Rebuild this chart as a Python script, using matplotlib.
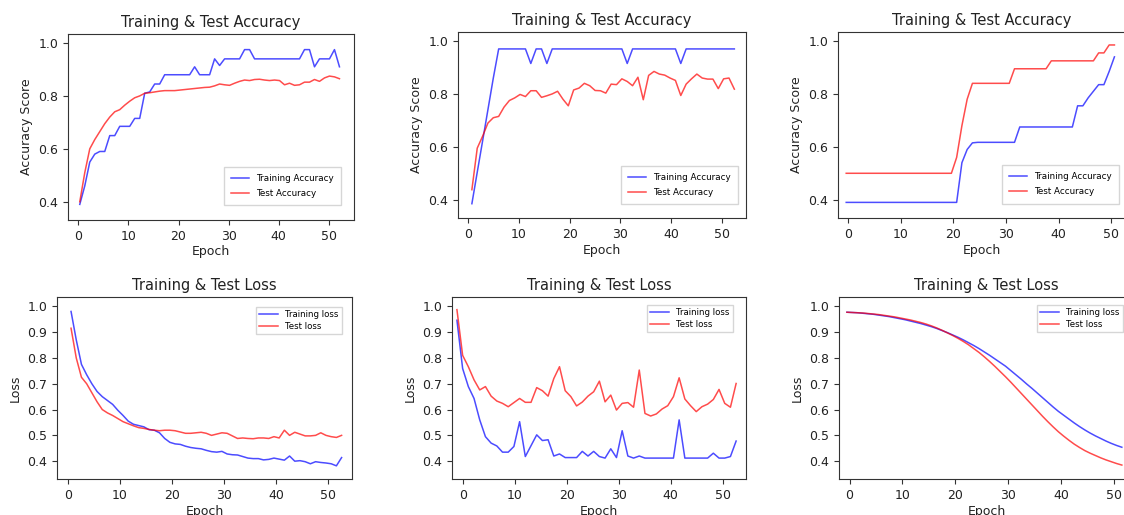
"""Six-panel training curves: accuracy (top row) and loss (bottom row) for three runs."""

import matplotlib

matplotlib.use("Agg")
import matplotlib.pyplot as plt  # noqa: E402
import numpy as np  # noqa: E402

# ---- run 1 -------------------------------------------------------------
run1_acc_train = [
    0.39, 0.46, 0.55, 0.58, 0.59, 0.59, 0.65, 0.65, 0.685, 0.685,
    0.685, 0.715, 0.715, 0.81, 0.815, 0.845, 0.845, 0.88, 0.88, 0.88,
    0.88, 0.88, 0.88, 0.91, 0.88, 0.88, 0.88, 0.94, 0.915, 0.94,
    0.94, 0.94, 0.94, 0.975, 0.975, 0.94, 0.94, 0.94, 0.94, 0.94,
    0.94, 0.94, 0.94, 0.94, 0.94, 0.975, 0.975, 0.91, 0.94, 0.94,
    0.94, 0.975, 0.91,
]
run1_acc_test = [
    0.40, 0.51, 0.60, 0.635, 0.665, 0.695, 0.72, 0.74, 0.748, 0.765,
    0.78, 0.793, 0.80, 0.81, 0.812, 0.815, 0.818, 0.82, 0.82, 0.82,
    0.822, 0.824, 0.826, 0.828, 0.83, 0.832, 0.833, 0.838, 0.845, 0.842,
    0.84, 0.848, 0.855, 0.86, 0.858, 0.862, 0.863, 0.86, 0.858, 0.86,
    0.858, 0.842, 0.848, 0.84, 0.842, 0.852, 0.852, 0.862, 0.855, 0.868,
    0.875, 0.872, 0.865,
]
run1_loss_train = [
    0.98, 0.87, 0.775, 0.735, 0.70, 0.67, 0.65, 0.635, 0.62, 0.597,
    0.577, 0.555, 0.543, 0.538, 0.533, 0.522, 0.52, 0.51, 0.488, 0.473,
    0.467, 0.465, 0.458, 0.453, 0.45, 0.448, 0.442, 0.437, 0.435, 0.438,
    0.428, 0.425, 0.424, 0.418, 0.412, 0.41, 0.41, 0.405, 0.407, 0.412,
    0.408, 0.404, 0.42, 0.40, 0.402, 0.398, 0.39, 0.398, 0.395, 0.393,
    0.39, 0.382, 0.414,
]
run1_loss_test = [
    0.915, 0.80, 0.725, 0.70, 0.665, 0.63, 0.60, 0.587, 0.577, 0.565,
    0.553, 0.545, 0.537, 0.53, 0.527, 0.523, 0.52, 0.518, 0.52, 0.52,
    0.518, 0.513, 0.508, 0.508, 0.51, 0.512, 0.508, 0.50, 0.505, 0.51,
    0.508, 0.498, 0.488, 0.49, 0.488, 0.487, 0.49, 0.49, 0.488, 0.495,
    0.49, 0.52, 0.50, 0.512, 0.505, 0.498, 0.498, 0.50, 0.51, 0.50,
    0.495, 0.492, 0.50,
]

# ---- run 2 -------------------------------------------------------------
run2_acc_train = [
    0.385, 0.504, 0.622, 0.741, 0.86, 0.97, 0.97, 0.97, 0.97, 0.97,
    0.97, 0.915, 0.97, 0.97, 0.915, 0.97, 0.97, 0.97, 0.97, 0.97,
    0.97, 0.97, 0.97, 0.97, 0.97, 0.97, 0.97, 0.97, 0.97, 0.915,
    0.97, 0.97, 0.97, 0.97, 0.97, 0.97, 0.97, 0.97, 0.97, 0.915,
    0.97, 0.97, 0.97, 0.97, 0.97, 0.97, 0.97, 0.97, 0.97, 0.97,
]
run2_acc_test = [
    0.438, 0.595, 0.64, 0.69, 0.71, 0.715, 0.75, 0.775, 0.785, 0.798,
    0.79, 0.812, 0.812, 0.787, 0.793, 0.80, 0.81, 0.78, 0.755, 0.815,
    0.822, 0.84, 0.831, 0.813, 0.812, 0.803, 0.837, 0.835, 0.857, 0.847,
    0.831, 0.863, 0.778, 0.870, 0.885, 0.875, 0.871, 0.860, 0.851, 0.794,
    0.837, 0.857, 0.875, 0.860, 0.856, 0.856, 0.820, 0.857, 0.860, 0.818,
]
run2_loss_train = [
    0.946, 0.759, 0.689, 0.643, 0.56, 0.495, 0.47, 0.459, 0.435, 0.435,
    0.457, 0.553, 0.418, 0.46, 0.502, 0.48, 0.483, 0.42, 0.428, 0.414,
    0.414, 0.414, 0.438, 0.42, 0.438, 0.418, 0.412, 0.448, 0.414, 0.518,
    0.42, 0.412, 0.42, 0.412, 0.412, 0.412, 0.412, 0.412, 0.412, 0.56,
    0.412, 0.412, 0.412, 0.412, 0.412, 0.431, 0.412, 0.412, 0.418, 0.478,
]
run2_loss_test = [
    0.987, 0.81, 0.766, 0.715, 0.676, 0.689, 0.652, 0.633, 0.624, 0.611,
    0.627, 0.643, 0.628, 0.628, 0.685, 0.673, 0.652, 0.72, 0.766, 0.673,
    0.65, 0.614, 0.629, 0.652, 0.669, 0.71, 0.63, 0.656, 0.598, 0.624,
    0.627, 0.609, 0.753, 0.585, 0.575, 0.583, 0.602, 0.615, 0.65, 0.723,
    0.641, 0.615, 0.592, 0.611, 0.621, 0.639, 0.678, 0.624, 0.609, 0.701,
]

# ---- run 3 -------------------------------------------------------------
run3_acc_train = (
    [0.39] * 22 + [0.54, 0.59, 0.615] + [0.617] * 8 + [0.675] * 11
    + [0.755, 0.755, 0.785, 0.81, 0.835, 0.835, 0.885, 0.94]
)
run3_acc_test = (
    [0.50] * 21 + [0.56, 0.68, 0.78] + [0.84] * 8 + [0.895] * 7
    + [0.925] * 9 + [0.955] * 2 + [0.985] * 2
)
run3_loss_train = [
    0.977, 0.976, 0.975, 0.973, 0.971, 0.969, 0.966, 0.963, 0.960, 0.956,
    0.952, 0.948, 0.943, 0.938, 0.933, 0.927, 0.921, 0.914, 0.906, 0.898,
    0.889, 0.880, 0.870, 0.859, 0.848, 0.836, 0.823, 0.810, 0.796, 0.782,
    0.768, 0.751, 0.734, 0.717, 0.699, 0.682, 0.664, 0.646, 0.628, 0.610,
    0.593, 0.578, 0.563, 0.548, 0.534, 0.521, 0.509, 0.498, 0.488, 0.478,
    0.469, 0.461, 0.454,
]
run3_loss_test = [
    0.977, 0.976, 0.975, 0.974, 0.972, 0.970, 0.968, 0.965, 0.962, 0.959,
    0.955, 0.951, 0.947, 0.942, 0.937, 0.931, 0.924, 0.916, 0.907, 0.897,
    0.887, 0.876, 0.864, 0.851, 0.836, 0.821, 0.804, 0.786, 0.767, 0.747,
    0.727, 0.706, 0.684, 0.662, 0.640, 0.618, 0.596, 0.574, 0.553, 0.533,
    0.514, 0.497, 0.481, 0.466, 0.453, 0.441, 0.431, 0.422, 0.413, 0.405,
    0.398, 0.391, 0.385,
]

# first / last epoch of each logged curve as it sits on the axis
EPOCH_SPAN = {
    "acc1": (0.3, 52.1), "acc2": (0.7, 52.5), "acc3": (-0.4, 50.6),
    "loss1": (0.6, 52.6), "loss2": (-1.1, 52.6), "loss3": (-0.5, 51.5),
}

ACC_TICKS = [0.4, 0.6, 0.8, 1.0]
LOSS_TICKS = [0.4, 0.5, 0.6, 0.7, 0.8, 0.9, 1.0]

W, H = 1124, 515
TXT = "#222222"


def px_axes(fig, left, top, right, bottom):
    return fig.add_axes([left / W, 1 - bottom / H, (right - left) / W, (bottom - top) / H])


def draw(ax, key, train, test, kind, xlim, legend_corner):
    x0, x1 = EPOCH_SPAN[key]
    acc = kind == "acc"
    ax.plot(np.linspace(x0, x1, len(train)), train, color="blue", alpha=0.7, lw=1.1,
            label="Training Accuracy" if acc else "Training loss")
    ax.plot(np.linspace(x0, x1, len(test)), test, color="red", alpha=0.7, lw=1.1,
            label="Test Accuracy" if acc else "Test loss")
    ax.set_xlim(*xlim)
    ax.set_xticks([0, 10, 20, 30, 40, 50])
    ax.tick_params(labelsize=9, length=3.5, color="#333333", labelcolor=TXT)
    ax.set_xlabel("Epoch", fontsize=9, color=TXT, labelpad=2)

    ticks = ACC_TICKS if acc else LOSS_TICKS
    ax.set_ylim(0.331, 1.034 if acc else 1.036)
    ax.set_yticks(ticks)
    ax.set_yticklabels([f"{v:.1f}" for v in ticks])
    ax.set_ylabel("Accuracy Score" if acc else "Loss", fontsize=9, color=TXT)
    ax.set_title("Training & Test Accuracy" if acc else "Training & Test Loss",
                 fontsize=10.5, color=TXT, pad=5)

    anchor = (legend_corner[0] / W, 1 - legend_corner[1] / H)
    if acc:
        ax.legend(loc="lower right", bbox_to_anchor=anchor, bbox_transform=fig.transFigure,
                  borderaxespad=0, fontsize=6.3, handlelength=2.1, handletextpad=0.8,
                  borderpad=0.8, labelspacing=0.7, fancybox=False)
    else:
        ax.legend(loc="upper right", bbox_to_anchor=anchor, bbox_transform=fig.transFigure,
                  borderaxespad=0, fontsize=6.2, handlelength=2.2, handletextpad=0.8,
                  borderpad=0.4, labelspacing=0.3, fancybox=False)
    for s in ax.spines.values():
        s.set_color("#333333")


fig = plt.figure(figsize=(W / 100, H / 100), dpi=100)

draw(px_axes(fig, 68, 34, 354, 220), "acc1", run1_acc_train, run1_acc_test,
     "acc", (-2.05, 55.0), (341, 205))
draw(px_axes(fig, 458, 32, 746, 218), "acc2", run2_acc_train, run2_acc_test,
     "acc", (-2.04, 54.8), (738, 204))
draw(px_axes(fig, 838, 32, 1126, 218), "acc3", run3_acc_train, run3_acc_test,
     "acc", (-1.96, 52.8), (1119, 203.5))
draw(px_axes(fig, 57, 297, 352, 479), "loss1", run1_loss_train, run1_loss_test,
     "loss", (-2.1, 54.6), (342, 307))
draw(px_axes(fig, 452, 297, 746, 479), "loss2", run2_loss_train, run2_loss_test,
     "loss", (-2.05, 54.5), (733, 305))
draw(px_axes(fig, 839, 297, 1134, 479), "loss3", run3_loss_train, run3_loss_test,
     "loss", (-2.0, 53.8), (1123, 305))

fig.savefig("out.png", dpi=100)
